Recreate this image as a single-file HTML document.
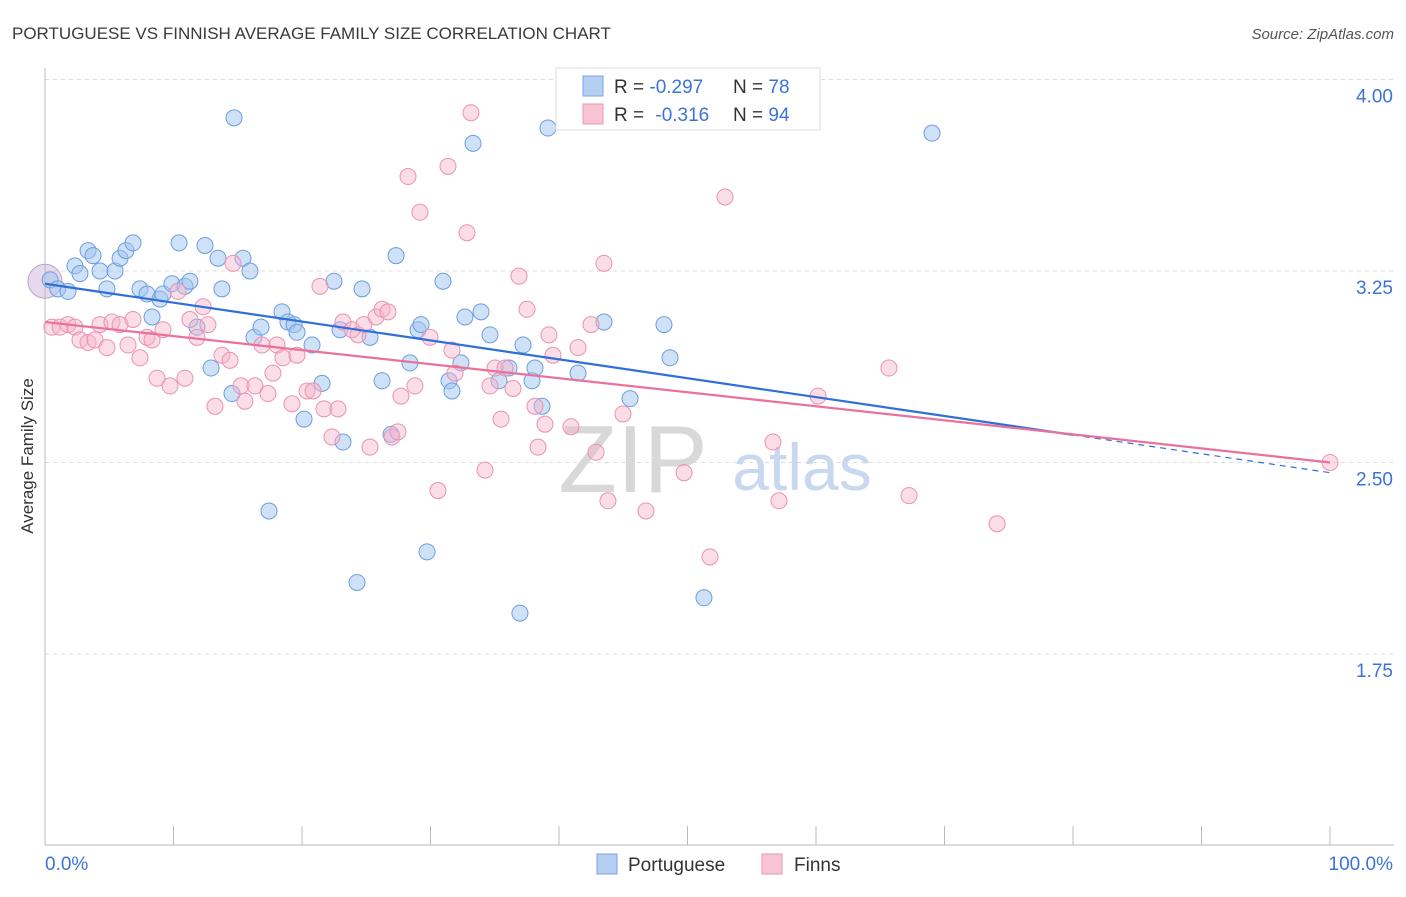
<!DOCTYPE html>
<html><head><meta charset="utf-8"><style>
body{margin:0;background:#fff;font-family:"Liberation Sans",sans-serif}
svg text{font-family:"Liberation Sans",sans-serif}
</style></head><body>
<svg id="chart" width="1406" height="892" xmlns="http://www.w3.org/2000/svg">
<text x="12" y="39" font-size="17" fill="#3a3a3a">PORTUGUESE VS FINNISH AVERAGE FAMILY SIZE CORRELATION CHART</text>
<text x="1394" y="39" font-size="15" fill="#555" text-anchor="end" font-style="italic">Source: ZipAtlas.com</text>
<text transform="translate(33,456) rotate(-90)" font-size="17" fill="#333" text-anchor="middle">Average Family Size</text>
<g id="grid"></g>
<g>
<text x="633" y="492" font-size="96" fill="#d8d8d8" text-anchor="middle" font-family="Liberation Serif">ZIP</text>
<text x="802" y="490" font-size="66" fill="#c8d8ef" text-anchor="middle">atlas</text>
</g>
<g id="points"></g>
<g id="trends"></g>
<g>
<rect x="556" y="68" width="264" height="62" fill="#fff" stroke="#ddd"/>
<rect x="583" y="76" width="20" height="20" fill="#b5cff3" stroke="#7aa5e0"/>
<rect x="583" y="104" width="20" height="20" fill="#f8c4d4" stroke="#eb97b3"/>
<text x="614" y="93" font-size="19" fill="#333">R = <tspan fill="#3b73d6">-0.297</tspan><tspan x="733">N = </tspan><tspan fill="#3b73d6">78</tspan></text>
<text x="614" y="121" font-size="19" fill="#333">R = <tspan dx="6" fill="#3b73d6">-0.316</tspan><tspan x="733">N = </tspan><tspan fill="#3b73d6">94</tspan></text>
</g>
<g>
<rect x="597" y="854" width="20" height="20" fill="#b5cff3" stroke="#7aa5e0"/>
<text x="628" y="871" font-size="19" fill="#333">Portuguese</text>
<rect x="762" y="854" width="20" height="20" fill="#f8c4d4" stroke="#eb97b3"/>
<text x="794" y="871" font-size="19" fill="#333">Finns</text>
</g>
</svg>
<script>
const yTicks=[4.00,3.25,2.50,1.75];
const yTickLabels=["4.00","3.25","2.50","1.75"];
const xTicks=[0,10,20,30,40,50,60,70,80,90,100];
const xEndLabels=["0.0%","100.0%"];
const portX=[0.4,0.99,1.79,2.33,2.72,3.35,3.74,4.28,4.82,5.45,5.84,6.3,6.85,7.39,7.94,8.33,8.95,9.18,9.88,10.43,10.89,11.28,11.83,12.45,12.92,13.46,13.77,14.55,14.71,15.41,15.95,16.26,16.81,17.43,18.44,18.91,19.38,19.61,20.16,20.78,21.56,22.49,22.96,23.19,24.28,24.67,25.29,26.23,26.93,27.32,28.4,29.03,29.26,29.73,30.97,31.44,31.67,32.37,32.68,33.31,33.93,34.63,35.33,36.11,36.96,37.2,37.9,38.13,38.68,39.14,41.48,43.5,45.53,48.17,48.64,51.28,69.03];
const portY=[3.215,3.18,3.17,3.27,3.24,3.33,3.31,3.25,3.18,3.25,3.3,3.33,3.36,3.18,3.16,3.07,3.14,3.16,3.2,3.36,3.19,3.21,3.03,3.35,2.87,3.3,3.18,2.77,3.85,3.3,3.25,2.99,3.03,2.31,3.09,3.05,3.04,3.01,2.67,2.96,2.81,3.21,3.02,2.58,2.03,3.18,2.99,2.82,2.61,3.31,2.89,3.02,3.04,2.15,3.21,2.82,2.78,2.89,3.07,3.75,3.09,3.0,2.82,2.87,1.91,2.96,2.82,2.87,2.72,3.81,2.85,3.05,2.75,3.04,2.91,1.97,3.79];
const finX=[0.54,1.17,1.79,2.33,2.72,3.35,3.89,4.28,4.82,5.21,5.84,6.46,6.85,7.39,7.94,8.33,8.72,9.18,9.73,10.35,10.89,11.28,11.83,12.3,12.68,13.23,13.77,14.4,14.63,15.25,15.56,16.34,16.89,17.35,17.74,18.05,18.52,19.22,19.61,20.39,20.86,21.4,21.71,22.33,22.8,23.19,23.89,24.36,24.82,25.29,25.76,26.23,26.69,27.0,27.47,27.7,28.25,28.79,29.18,29.96,30.58,31.36,31.67,31.91,32.84,33.15,34.24,34.63,35.02,35.49,35.8,36.42,36.89,37.51,38.13,38.37,38.91,39.22,39.53,40.93,41.48,42.49,42.88,43.5,43.81,44.98,46.77,49.73,51.75,52.92,56.65,57.12,60.16,65.68,67.24,74.09,100];
const finY=[3.03,3.03,3.04,3.03,2.98,2.97,2.98,3.04,2.95,3.05,3.04,2.96,3.06,2.91,2.99,2.98,2.83,3.02,2.8,3.17,2.83,3.06,2.99,3.11,3.04,2.72,2.92,2.9,3.28,2.8,2.74,2.8,2.96,2.77,2.85,2.96,2.91,2.73,2.92,2.78,2.78,3.19,2.71,2.6,2.71,3.05,3.02,3.0,3.04,2.56,3.07,3.1,3.09,2.6,2.62,2.76,3.62,2.8,3.48,2.99,2.39,3.66,2.94,2.85,3.4,3.87,2.47,2.8,2.87,2.67,2.87,2.79,3.23,3.1,2.72,2.56,2.65,3.0,2.92,2.64,2.95,3.04,2.54,3.28,2.35,2.69,2.31,2.46,2.13,3.54,2.58,2.35,2.76,2.87,2.37,2.26,2.5];
const portTrend=[3.20,-0.0074];
const finTrend=[3.05,-0.0055];
const NS="http://www.w3.org/2000/svg";
const X=v=>45+v*12.85, Y=v=>271+(3.25-v)*255.3;
function mk(t,a,p){const e=document.createElementNS(NS,t);for(const k in a)e.setAttribute(k,a[k]);p.appendChild(e);return e;}
const grid=document.getElementById('grid');
yTicks.forEach((t,i)=>{
 const l=mk('line',{x1:45,x2:1394,y1:Y(t),y2:Y(t),stroke:'#dcdcdc','stroke-dasharray':'4,4'},grid);
 
 
 const tx=mk('text',{x:1393,y:Y(t)+23,'font-size':19,fill:'#3b73d6','text-anchor':'end'},grid);
 tx.textContent=yTickLabels[i];
 
 
});
const ax=mk('line',{x1:45,x2:45,y1:68,y2:845,stroke:'#bbb'},grid);


const bx=mk('line',{x1:45,x2:1394,y1:845,y2:845,stroke:'#bbb'},grid);


xTicks.forEach(t=>{
 const l=mk('line',{x1:X(t),x2:X(t),y1:826,y2:845,stroke:'#bbb'},grid);
 
 
});
const xl0=mk('text',{x:45,y:870,'font-size':19,fill:'#3b73d6'},grid);xl0.textContent=xEndLabels[0];


const xl1=mk('text',{x:1393,y:870,'font-size':19,fill:'#3b73d6','text-anchor':'end'},grid);xl1.textContent=xEndLabels[1];


const pts=document.getElementById('points');
const big=mk('circle',{cx:X(0),cy:Y(3.21),r:17,fill:'rgba(200,170,210,0.45)',stroke:'#b9a3d0'},pts);


portX.forEach((x,i)=>{
 const c=mk('circle',{cx:X(x),cy:Y(portY[i]),r:8,fill:'rgba(160,195,240,0.5)',stroke:'#6d9de0','stroke-width':1},pts);
 
 
});
finX.forEach((x,i)=>{
 const c=mk('circle',{cx:X(x),cy:Y(finY[i]),r:8,fill:'rgba(246,180,202,0.45)',stroke:'#ea92b1','stroke-width':1},pts);
 
 
});
const tr=document.getElementById('trends');
const f=(t,x)=>t[0]+t[1]*x;
const pl=mk('line',{x1:X(0),y1:Y(f(portTrend,0)),x2:X(80),y2:Y(f(portTrend,80)),stroke:'#2f6fd8','stroke-width':2.2},tr);


const pd=mk('line',{x1:X(80),y1:Y(f(portTrend,80)),x2:X(100),y2:Y(f(portTrend,100)),stroke:'#2f6fd8','stroke-width':1.2,'stroke-dasharray':'6,5'},tr);


const fl=mk('line',{x1:X(0),y1:Y(f(finTrend,0)),x2:X(100),y2:Y(f(finTrend,100)),stroke:'#e8729a','stroke-width':2.2},tr);


</script>
</body></html>
